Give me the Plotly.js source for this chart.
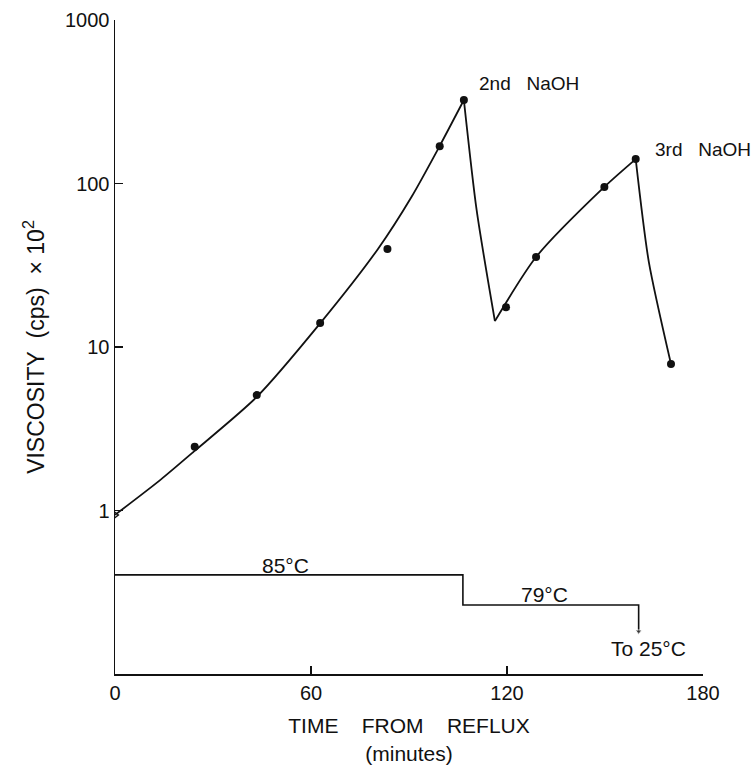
<!DOCTYPE html>
<html>
<head>
<meta charset="utf-8">
<script src="https://cdn.plot.ly/plotly-3.0.1.min.js"></script>
<style>html,body{margin:0;padding:0;background:#fff;}#chart{width:755px;height:767px;}</style>
</head>
<body>
<div id="chart"></div>
<script>
// Measured viscosity points (minutes, cps x 10^2)
var obsTime = [24.4, 43.4, 62.8, 83.4, 99.4, 106.8, 119.7, 128.9, 149.8, 159.4, 170.2];
var obsVisc = [2.45, 5.08, 14.0, 39.7, 169, 324, 17.5, 35.5, 95.3, 141, 7.87];

// Starting point at reflux
var startTime = [0];
var startVisc = [0.94];

// Fitted curve, in four segments
var rise1Time = [0, 13.9, 24.1, 43.3, 62.6, 80.5, 90.8, 99.0, 106.8];
var rise1Visc = [0.94, 1.54, 2.29, 4.93, 13.8, 39.8, 83, 164, 324];
var drop1Time = [106.8, 110.7, 116.3];
var drop1Visc = [324, 68.9, 14.4];
var rise2Time = [116.3, 128.9, 149.8, 159.4];
var rise2Visc = [14.4, 35.5, 95.3, 141];
var drop2Time = [159.4, 163.4, 170.2];
var drop2Visc = [141, 33.3, 7.87];

// Temperature schedule (drawn below the curve)
var tempTime = [0, 106.5, 106.5, 160.3, 160.3];
var tempLevel = [0.404, 0.404, 0.264, 0.264, 0.182];
var tempLabels = ['85°C', '79°C', 'To 25°C'];
var tempLabelTime = [52.3, 131.5, 163.4];
var tempLabelLevel = [0.46, 0.305, 0.144];

// Additions of NaOH
var naohLabels = ['2nd\u00a0\u00a0\u00a0NaOH', '3rd\u00a0\u00a0\u00a0NaOH'];
var naohTime = [106.8, 159.4];
var naohVisc = [324, 141];
var naohShift = [[13, 17], [17, 10]];

// Axis ticks
var xTicks = [0, 60, 120, 180];
var yTicks = [1, 10, 100, 1000];
var yTickText = ['1', '10', '100', '1000'];

var FONT = 'Liberation Sans, Arial, sans-serif';
var BLACK = '#111';

function seg(x, y) {
  return {x: x, y: y, mode: 'lines', type: 'scatter', showlegend: false,
    hoverinfo: 'skip', line: {color: BLACK, width: 1.8, shape: 'spline', smoothing: 0.7}};
}

var traces = [
  seg(rise1Time, rise1Visc),
  seg(drop1Time, drop1Visc),
  seg(rise2Time, rise2Visc),
  seg(drop2Time, drop2Visc),
  {x: obsTime, y: obsVisc, mode: 'markers', type: 'scatter', showlegend: false,
    marker: {color: BLACK, size: 8, symbol: 'circle'}},
  {x: startTime, y: startVisc, mode: 'markers', type: 'scatter', showlegend: false,
    marker: {color: BLACK, size: 7, symbol: 'triangle-right-open', line: {width: 1.3, color: BLACK}}},
  {x: tempTime, y: tempLevel, mode: 'lines+markers', type: 'scatter', showlegend: false,
    line: {color: BLACK, width: 1.6, shape: 'linear'},
    marker: {color: BLACK, symbol: 'triangle-down', size: tempTime.map(function(v, i){ return i === tempTime.length - 1 ? 6 : 0; })}}
];

var annotations = [];
for (var i = 0; i < naohLabels.length; i++) {
  annotations.push({x: naohTime[i], y: Math.log10(naohVisc[i]), xref: 'x', yref: 'y',
    text: naohLabels[i], showarrow: false, xanchor: 'left', yanchor: 'middle',
    xshift: naohShift[i][0], yshift: naohShift[i][1], font: {family: FONT, size: 19, color: BLACK}});
}
for (var j = 0; j < tempLabels.length; j++) {
  annotations.push({x: tempLabelTime[j], y: Math.log10(tempLabelLevel[j]), xref: 'x', yref: 'y',
    text: tempLabels[j], showarrow: false, xanchor: 'center', yanchor: 'middle',
    font: {family: FONT, size: 21, color: BLACK}});
}

var layout = {
  width: 755, height: 767,
  paper_bgcolor: '#fff', plot_bgcolor: '#fff',
  margin: {l: 115, r: 52, t: 20, b: 93},
  font: {family: FONT, color: BLACK},
  showlegend: false,
  xaxis: {
    range: [0, 180], tickvals: xTicks, ticktext: xTicks.map(String),
    ticks: 'inside', ticklen: 8, tickwidth: 1.5, tickcolor: BLACK,
    showline: true, linecolor: BLACK, linewidth: 1.5, showgrid: false, zeroline: false,
    tickfont: {family: FONT, size: 20, color: BLACK},
    title: {text: 'TIME\u00a0\u00a0\u00a0\u00a0FROM\u00a0\u00a0\u00a0\u00a0REFLUX<br>(minutes)', standoff: 16,
      font: {family: FONT, size: 21, color: BLACK}}
  },
  yaxis: {
    type: 'log', range: [-1, 3], tickvals: yTicks, ticktext: yTickText,
    ticks: 'inside', ticklen: 8, tickwidth: 1.5, tickcolor: BLACK,
    showline: true, linecolor: BLACK, linewidth: 1.5, showgrid: false, zeroline: false,
    tickfont: {family: FONT, size: 20, color: BLACK},
    title: {text: 'VISCOSITY\u00a0\u00a0(cps)\u00a0\u00a0\u00d7\u00a010<sup>2</sup>', standoff: 14,
      font: {family: FONT, size: 23, color: BLACK}}
  },
  annotations: annotations
};

Plotly.newPlot('chart', traces, layout, {displayModeBar: false, staticPlot: true});
</script>
</body>
</html>
